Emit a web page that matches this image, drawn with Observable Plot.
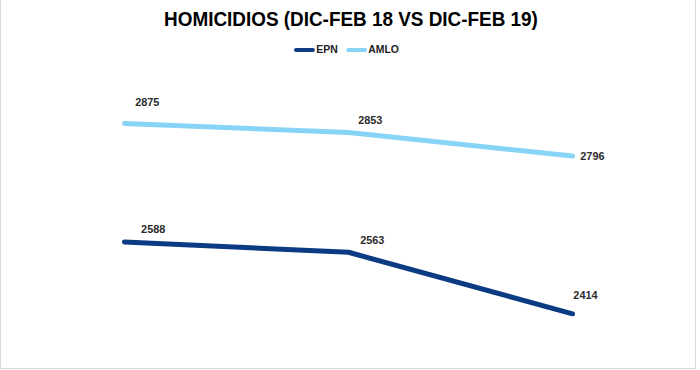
<!DOCTYPE html>
<html><head><meta charset="utf-8">
<script src="https://cdn.jsdelivr.net/npm/d3@7"></script>
<script src="https://cdn.jsdelivr.net/npm/@observablehq/plot@0.6"></script>
<style>
body{margin:0;background:#fff;font-family:"Liberation Sans",Arial,sans-serif;}
#frame{position:relative;width:694px;height:368px;border:1px solid #d9d9d9;border-top:none;overflow:hidden;}
#title{position:absolute;left:0;width:700px;top:7px;text-align:center;font-family:"Liberation Sans",Arial,sans-serif;font-weight:bold;font-size:21px;color:#000;transform:scaleX(0.9);transform-origin:350px 0;}
#legend{position:absolute;left:0;width:700px;top:43px;text-align:center;font-weight:bold;font-size:11px;color:#222;font-family:"Liberation Sans",Arial,sans-serif;transform:scaleX(0.95);transform-origin:350px 0;}
#legend span.sw{display:inline-block;width:22px;height:4px;border-radius:2px;vertical-align:middle;margin-right:1px;}
#legend span.it{margin-right:9px;}
#chart{position:absolute;left:0;top:0;}
</style></head>
<body>
<div id="frame">
<div id="chart"></div>
<div id="title">HOMICIDIOS (DIC-FEB 18 VS DIC-FEB 19)</div>
<div id="legend"></div>
</div>
<script>
const categories = ["DIC", "ENE", "FEB"];
const seriesNames = ["EPN", "AMLO"];
const epn = [2588, 2563, 2414];
const amlo = [2875, 2853, 2796];
const colors = {EPN: "#0b3b82", AMLO: "#88d4f7"};

const data = [];
categories.forEach((c, i) => {
  data.push({serie: "EPN", cat: c, i, value: epn[i]});
  data.push({serie: "AMLO", cat: c, i, value: amlo[i]});
});

const labelOffsets = {
  AMLO: [[23, -21], [22, -12], [20, 0]],
  EPN: [[29, -13], [24, -12], [13, -18]]
};

const textMarks = [];
for (const s of seriesNames) {
  categories.forEach((c, i) => {
    const [dx, dy] = labelOffsets[s][i];
    textMarks.push(Plot.text(data.filter(d => d.serie === s && d.i === i), {
      x: "cat", y: "value", text: d => String(d.value), dx, dy,
      fontWeight: "bold", fontSize: 11, fill: "#2b2b2b"
    }));
  });
}

const chart = Plot.plot({
  width: 700, height: 370,
  marginLeft: 124, marginRight: 124, marginTop: 124, marginBottom: 54,
  x: {type: "point", domain: categories, axis: null, padding: 0},
  y: {domain: [2414, 2875], axis: null},
  style: {fontFamily: "'Liberation Sans', Arial, sans-serif", background: "transparent"},
  marks: [
    Plot.line(data, {x: "cat", y: "value", z: "serie", stroke: d => colors[d.serie], strokeWidth: 5, strokeLinecap: "round", strokeLinejoin: "round"}),
    ...textMarks
  ]
});
document.getElementById("chart").appendChild(chart);

const lg = document.getElementById("legend");
seriesNames.forEach(s => {
  const sw = document.createElement("span");
  sw.className = "sw"; sw.style.background = colors[s];
  const t = document.createElement("span");
  t.className = "it"; t.textContent = s;
  lg.appendChild(sw); lg.appendChild(t);
});
</script>
</body></html>
